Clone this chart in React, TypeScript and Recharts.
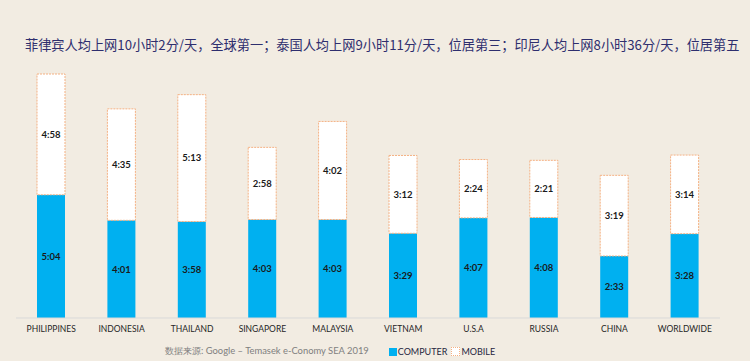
import React from "react";
import { BarChart, Bar, XAxis, YAxis, LabelList } from "recharts";

const COUNTRIES = [
  "PHILIPPINES",
  "INDONESIA",
  "THAILAND",
  "SINGAPORE",
  "MALAYSIA",
  "VIETNAM",
  "U.S.A",
  "RUSSIA",
  "CHINA",
  "WORLDWIDE",
];
const COMPUTER = ["5:04", "4:01", "3:58", "4:03", "4:03", "3:29", "4:07", "4:08", "2:33", "3:28"];
const MOBILE = ["4:58", "4:35", "5:13", "2:58", "4:02", "3:12", "2:24", "2:21", "3:19", "3:14"];

const TITLE =
  "菲律宾人均上网10小时2分/天，全球第一；泰国人均上网9小时11分/天，位居第三；印尼人均上网8小时36分/天，位居第五";
const SOURCE = "数据来源: Google – Temasek e-Conomy SEA 2019";

const BLUE = "#00b0f0";
const ORANGE = "#f4b183";
const FONT = "Lato, 'Open Sans', sans-serif";

const toMinutes = (s: string) => {
  const [h, m] = s.split(":").map(Number);
  return h * 60 + m;
};
const toLabel = (v: number) => `${Math.floor(v / 60)}:${String(v % 60).padStart(2, "0")}`;

const data = COUNTRIES.map((name, i) => ({
  name,
  computer: toMinutes(COMPUTER[i]),
  mobile: toMinutes(MOBILE[i]),
}));

const labelStyle = { fontSize: 9.5, fontWeight: 700, fill: "#1a1a1a", fontFamily: FONT };

export default function App() {
  return (
    <div
      style={{
        position: "absolute",
        left: 0,
        top: 0,
        width: 750,
        height: 361,
        background: "#f2ece2",
        overflow: "hidden",
      }}
    >
      <div
        style={{
          position: "absolute",
          left: 25,
          top: 35,
          fontFamily: "'Noto Sans CJK SC', sans-serif",
          fontSize: 13.2,
          color: "#2e2e6e",
          whiteSpace: "nowrap",
        }}
      >
        {TITLE}
      </div>
      <BarChart
        width={750}
        height={361}
        data={data}
        margin={{ top: 74, right: 30, bottom: 23, left: 16 }}
        style={{ position: "absolute", left: 0, top: 0 }}
      >
        <XAxis
          dataKey="name"
          height={20}
          tickLine={false}
          tickSize={0}
          tickMargin={8}
          axisLine={{ stroke: "#d9d9d9" }}
          tick={{ fontSize: 8.5, fill: "#262626", fontFamily: FONT }}
          interval={0}
        />
        <YAxis hide domain={[0, "dataMax"]} />
        <Bar dataKey="computer" stackId="a" fill={BLUE} barSize={28} isAnimationActive={false}>
          <LabelList
            dataKey="computer"
            position="center"
            formatter={(v: any) => toLabel(Number(v))}
            style={labelStyle}
          />
        </Bar>
        <Bar
          dataKey="mobile"
          stackId="a"
          fill="#ffffff"
          stroke={ORANGE}
          strokeDasharray="2 1"
          strokeWidth={1}
          barSize={28}
          isAnimationActive={false}
        >
          <LabelList
            dataKey="mobile"
            position="center"
            formatter={(v: any) => toLabel(Number(v))}
            style={labelStyle}
          />
        </Bar>
      </BarChart>
      <div
        style={{
          position: "absolute",
          left: 165,
          top: 345,
          display: "flex",
          alignItems: "center",
          fontFamily: FONT,
          whiteSpace: "nowrap",
        }}
      >
        <span style={{ color: "#7f7f7f", fontSize: 9.4, marginRight: 20 }}>{SOURCE}</span>
        <span style={{ display: "inline-block", width: 8, height: 8, background: BLUE, marginRight: 1 }} />
        <span style={{ color: "#262640", fontSize: 9, marginRight: 4 }}>COMPUTER</span>
        <span
          style={{
            display: "inline-block",
            width: 7,
            height: 7,
            background: "#fff",
            border: `1px dotted ${ORANGE}`,
            marginRight: 1,
          }}
        />
        <span style={{ color: "#262640", fontSize: 9 }}>MOBILE</span>
      </div>
    </div>
  );
}
